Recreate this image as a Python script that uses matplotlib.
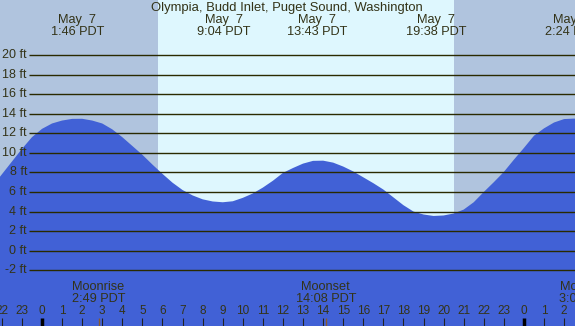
import numpy as np
import matplotlib.pyplot as plt

plt.rcParams['font.family'] = ['Liberation Sans', 'DejaVu Sans']

title = "Olympia, Budd Inlet, Puget Sound, Washington"

# tide height (ft) every half hour, hours from midnight May 7
times = np.arange(-2.5, 27.01, 0.5)
heights = [6.5, 7.8, 9.1, 10.4, 11.6, 12.45, 13.0, 13.3, 13.47, 13.48,
           13.3, 13.0, 12.4, 11.6, 10.7, 9.8, 8.8, 7.85, 6.95, 6.2,
           5.65, 5.25, 5.03, 4.95, 5.05, 5.4, 5.85, 6.45, 7.15, 7.95,
           8.45, 8.9, 9.18, 9.2, 9.0, 8.6, 8.1, 7.5, 6.9, 6.25,
           5.45, 4.65, 4.0, 3.7, 3.55, 3.6, 3.8, 4.2, 4.95, 6.0,
           7.0, 8.05, 9.3, 10.5, 11.75, 12.5, 13.1, 13.45, 13.5, 13.4]

# high / low tide labels
ext_times = [1 + 46/60, 9 + 4/60, 13 + 43/60, 19 + 38/60, 26 + 24/60]
ext_dates = ["May  7", "May  7", "May  7", "May  7", "May  7"]
ext_labels = ["1:46 PDT", "9:04 PDT", "13:43 PDT", "19:38 PDT", "2:24 PDT"]

# moon events
moon_times = [2 + 49/60, 14 + 8/60, 27 + 5/60]
moon_names = ["Moonrise", "Moonset", "Moonrise"]
moon_labels = ["2:49 PDT", "14:08 PDT", "3:05 PDT"]

sunrise = 5.78
sunset = 20.52

levels = list(range(-2, 21, 2))
hours = list(range(-2, 27))

# pixel geometry of the original picture
W, H = 575, 326
px_per_hr = 20.08
x0 = 42.0          # x pixel of midnight
px_per_ft = 9.786
y0 = 250.7         # y pixel of 0 ft


def hx(px):
    return (px - x0) / px_per_hr


def fy(py):
    return (y0 - py) / px_per_ft


fig = plt.figure(figsize=(W / 100, H / 100), dpi=100)
ax = fig.add_axes([0, 0, 1, 1])
xmin, xmax = hx(0), hx(W)
ymin, ymax = fy(H), fy(0)
ax.set_xlim(xmin, xmax)
ax.set_ylim(ymin, ymax)
ax.axis('off')

day_col = '#DEF7FE'
night_col = '#B0C4DE'
water_col = '#4161D6'
ink = '#333318'

ax.axvspan(xmin, xmax, color=day_col, zorder=0)
ax.axvspan(xmin, sunrise, color=night_col, zorder=1, lw=0)
ax.axvspan(sunset, xmax, color=night_col, zorder=1, lw=0)

ax.fill_between(times, heights, ymin, color=water_col, lw=0, zorder=2)

ax.hlines(levels, hx(29), xmax, color='#2a2a00', lw=1.0, zorder=3)
for lv in levels:
    ax.text(hx(27), lv, f"{lv} ft", ha='right', va='center',
            fontsize=9, color=ink, zorder=4)

ax.text(hx(287), fy(8), title, ha='center', va='center', fontsize=9.4,
        color=ink, zorder=4)
for t, d, lab in zip(ext_times, ext_dates, ext_labels):
    ax.text(t, fy(20), d, ha='center', va='center', fontsize=9.2, color=ink, zorder=4)
    ax.text(t, fy(32), lab, ha='center', va='center', fontsize=9.2, color=ink, zorder=4)

for t, name, lab in zip(moon_times, moon_names, moon_labels):
    ax.text(t, fy(287), name, ha='center', va='center', fontsize=9.2, color=ink, zorder=4)
    ax.text(t, fy(299), lab, ha='center', va='center', fontsize=9.2, color=ink, zorder=4)
    ax.vlines(t, ymin, fy(318), color='#8B5A2B', lw=1.0, zorder=4)

for h in hours:
    ax.text(h, fy(311.5), str(h % 24), ha='center', va='center',
            fontsize=8.5, color=ink, zorder=4)
    if h % 24 == 0:
        ax.vlines(h, ymin, fy(318), color='black', lw=2.5, zorder=4)
    else:
        ax.vlines(h, ymin, fy(318), color='#222222', lw=0.8, zorder=4)

fig.savefig('out.png', dpi=100)
